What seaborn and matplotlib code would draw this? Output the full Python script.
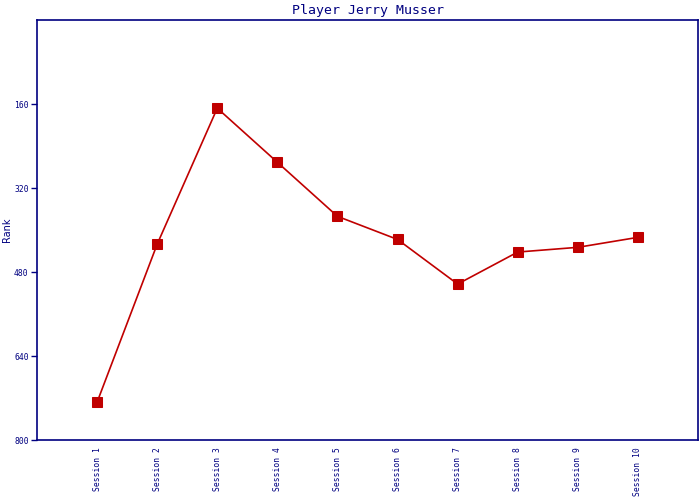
"""Rank history line chart for a single player."""

import matplotlib

matplotlib.use("Agg")

import matplotlib.pyplot as plt
import pandas as pd
import seaborn as sns

sessions = [f"Session {i}" for i in range(1, 11)]
ranks = [728, 427, 168, 271, 374, 418, 503, 442, 433, 414]
rank_ticks = [160, 320, 480, 640, 800]

NAVY = "#000080"
RED = "#c00000"

sns.set_theme(style="white")
plt.rcParams["font.family"] = ["DejaVu Sans Mono", "DejaVu Sans"]

data = pd.DataFrame({"session": sessions, "rank": ranks})

fig = plt.figure(figsize=(7, 5), dpi=100)
ax = fig.add_axes([37 / 700, 60 / 500, 661 / 700, 420 / 500])

sns.lineplot(
    data=data,
    x="session",
    y="rank",
    sort=False,
    color=RED,
    linewidth=1.2,
    marker="s",
    markersize=7,
    markeredgecolor=RED,
    markerfacecolor=RED,
    ax=ax,
)

ax.set_xlim(-1, len(sessions))
ax.set_ylim(800, 0)
ax.set_yticks(rank_ticks)
ax.set_yticklabels([str(t) for t in rank_ticks], fontsize=5.8, color=NAVY)
ax.set_xticks(range(len(sessions)))
ax.set_xticklabels(sessions, rotation=90, fontsize=5.8, color=NAVY)
ax.tick_params(axis="y", direction="out", length=4, width=1, color=NAVY, pad=2, left=True)
ax.tick_params(axis="x", length=0, pad=5)

for spine in ax.spines.values():
    spine.set_color(NAVY)
    spine.set_linewidth(1.2)

ax.set_xlabel("")
ax.set_ylabel("Rank", fontsize=7, color=NAVY, family="DejaVu Sans")
ax.yaxis.set_label_coords(-0.038, 0.5)
ax.set_title("Player Jerry Musser", fontsize=9.5, color=NAVY, pad=4)

fig.savefig("out.png", dpi=100, facecolor="white")
